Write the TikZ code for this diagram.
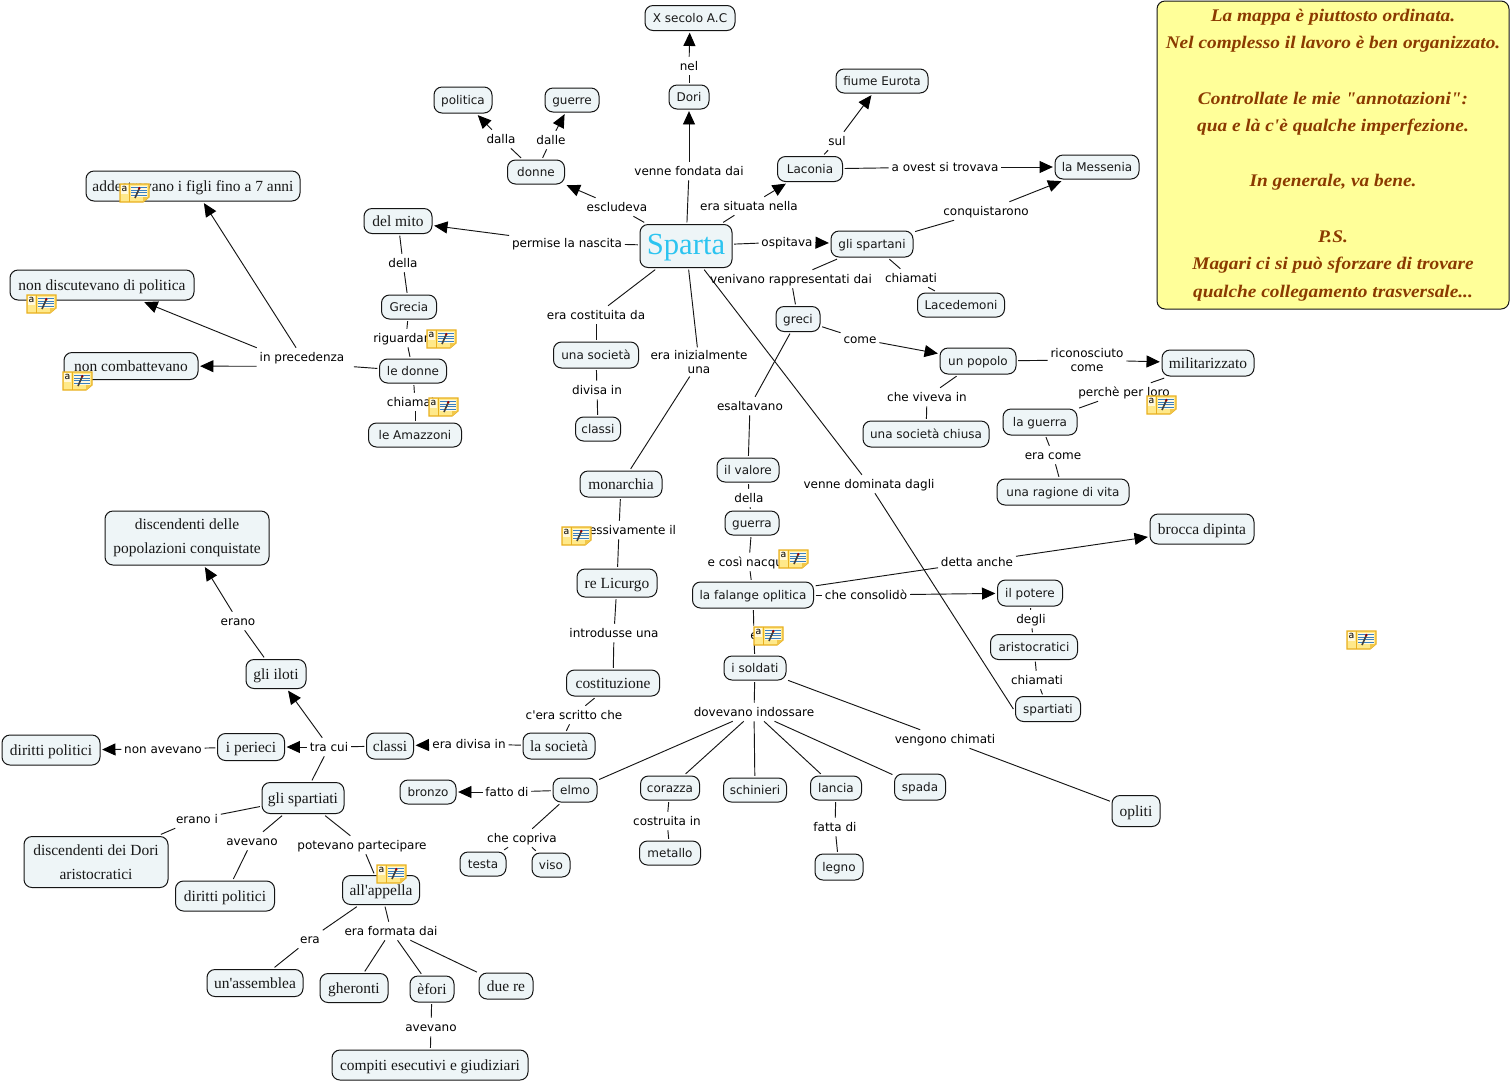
\documentclass[tikz,border=0pt]{standalone}
\usepackage{fontspec}
\newfontfamily\rserif{Liberation Serif}
\newfontfamily\nserif[FakeStretch=1.09]{Liberation Serif}
\newfontfamily\vsans{DejaVu Sans}
\usetikzlibrary{arrows.meta}
\definecolor{boxfill}{HTML}{EEF5F7}
\definecolor{noteyellow}{HTML}{FFFF99}
\definecolor{notetext}{HTML}{8B3A00}
\definecolor{spartablue}{HTML}{2CC4F0}
\definecolor{linedark}{HTML}{151515}
\definecolor{iconfill}{HTML}{FFE98A}
\definecolor{iconedge}{HTML}{E8B020}
\definecolor{iconline}{HTML}{3A7FC0}
\tikzset{
  sz/.style 2 args={minimum width=#1*0.75pt,minimum height=#2*0.75pt},
  boxbase/.style={draw=linedark,line width=.75pt,fill=boxfill,rounded corners=6pt,inner sep=0pt,outer sep=1.6pt,align=center},
  sbox/.style={boxbase,text=black!90,text height=8.1pt,text depth=1.5pt,font=\vsans\fontsize{9}{12}\selectfont},
  rboxtwo/.style={boxbase,text=black!90,font=\rserif\fontsize{11.6}{18}\selectfont},
  rbox/.style={rboxtwo,text height=9pt,text depth=1.5pt},
  labtwo/.style={inner sep=2pt,text=black,align=center,font=\vsans\fontsize{9}{10.5}\selectfont},
  lab/.style={labtwo,text height=8pt,text depth=1.5pt},
  ln/.style={draw=linedark,line width=.7pt},
  arr/.style={ln,-{Triangle[length=10pt,width=9pt,color=black]}},
  noteicon/.pic={
    \draw[fill=iconfill,draw=iconedge,line width=.9pt] (0,0)--(29,0)--(29,13)--(23,18)--(0,18)--cycle;
    \fill[iconedge!60!iconfill] (29,13)--(23,13)--(23,18)--cycle;
    \draw[draw=iconedge,line width=.5pt] (9,0)--(9,18);
    \fill[white!70!iconfill] (1,1) rectangle (8,10);
    \node[inner sep=0pt,font=\vsans\fontsize{7}{7}\selectfont] at (4.5,5) {a};
    \fill[white!75!iconfill] (11,2) rectangle (27,12.5);
    \foreach \yy in {3.5,6,8.5,11}{\draw[iconline,line width=.5pt] (11,\yy)--(27,\yy);}
    \draw[black!75,line width=1.2pt] (15,14)--(19,5);
    \fill[red!60!black] (19.3,4.2) circle (1.4);
  }
}
\begin{document}
\begin{tikzpicture}[x=0.75pt,y=-0.75pt]
\path[use as bounding box,fill=white] (0,0) rectangle (1511,1083);

% note box
\node[boxbase,fill=noteyellow,sz={352}{308},text=notetext,font=\nserif\bfseries\itshape\fontsize{13.3}{20.7}\selectfont] (remark) at (1333,155) {La mappa è piuttosto ordinata.\\Nel complesso il lavoro è ben organizzato.\\[20.7pt]Controllate le mie "annotazioni":\\qua e là c'è qualche imperfezione.\\[20.7pt]In generale, va bene.\\[20.7pt]P.S.\\Magari ci si può sforzare di trovare\\qualche collegamento trasversale...};

% concept boxes
\node[boxbase,sz={92}{43},text=spartablue,text height=17pt,text depth=5pt,font=\rserif\fontsize{23}{28}\selectfont] (sparta) at (686,246) {Sparta};
\node[sbox,sz={90}{25}] (xsec) at (690,18) {X secolo A.C};
\node[sbox,sz={40}{24}] (dori) at (689,97) {Dori};
\node[sbox,sz={92}{24}] (eurota) at (882,81) {fiume Eurota};
\node[sbox,sz={58}{26}] (politica) at (463,100) {politica};
\node[sbox,sz={54}{24}] (guerre) at (572,100) {guerre};
\node[sbox,sz={57}{24}] (donne) at (536,172) {donne};
\node[sbox,sz={65}{25}] (laconia) at (810,169) {Laconia};
\node[sbox,sz={84}{24}] (messenia) at (1097,167) {la Messenia};
\node[sbox,sz={82}{26}] (spartani) at (872,244) {gli spartani};
\node[sbox,sz={44}{25}] (greci) at (798,319) {greci};
\node[sbox,sz={87}{24}] (lacedemoni) at (961,305) {Lacedemoni};
\node[sbox,sz={85}{26}] (societa) at (596,355) {una società};
\node[sbox,sz={45}{24}] (classis) at (598,429) {classi};
\node[sbox,sz={55}{24}] (grecia) at (409,307) {Grecia};
\node[sbox,sz={67}{24}] (ledonne) at (413,371) {le donne};
\node[sbox,sz={93}{24}] (amazzoni) at (415,435) {le Amazzoni};
\node[sbox,sz={76}{26}] (popolo) at (978,361) {un popolo};
\node[sbox,sz={126}{26}] (chiusa) at (926,434) {una società chiusa};
\node[sbox,sz={74}{26}] (laguerra) at (1040,422) {la guerra};
\node[sbox,sz={132}{26}] (ragione) at (1063,492) {una ragione di vita};
\node[sbox,sz={62}{24}] (valore) at (748,470) {il valore};
\node[sbox,sz={54}{24}] (guerra) at (752,523) {guerra};
\node[sbox,sz={121}{26}] (falange) at (753,595) {la falange oplitica};
\node[sbox,sz={65}{26}] (potere) at (1030,593) {il potere};
\node[sbox,sz={87}{25}] (aristo) at (1034,647) {aristocratici};
\node[sbox,sz={65}{25}] (spartiatis) at (1048,709) {spartiati};
\node[sbox,sz={62}{24}] (soldati) at (755,668) {i soldati};
\node[sbox,sz={44}{24}] (elmo) at (575,790) {elmo};
\node[sbox,sz={56}{24}] (bronzo) at (428,792) {bronzo};
\node[sbox,sz={46}{24}] (testa) at (483,864) {testa};
\node[sbox,sz={38}{24}] (viso) at (551,865) {viso};
\node[sbox,sz={59}{24}] (corazza) at (670,788) {corazza};
\node[sbox,sz={61}{24}] (metallo) at (670,853) {metallo};
\node[sbox,sz={63}{24}] (schinieri) at (755,790) {schinieri};
\node[sbox,sz={51}{24}] (lancia) at (836,788) {lancia};
\node[sbox,sz={48}{26}] (legno) at (839,867) {legno};
\node[sbox,sz={51}{26}] (spada) at (920,787) {spada};

\node[rbox,sz={214}{30}] (addestr) at (193,186) {addestravano i figli fino a 7 anni};
\node[rbox,sz={68}{25}] (mito) at (398,221) {del mito};
\node[rbox,sz={184}{30}] (nondisc) at (102,285) {non discutevano di politica};
\node[rbox,sz={134}{27}] (noncomb) at (131,366) {non combattevano};
\node[rbox,sz={92}{26}] (milit) at (1208,363) {militarizzato};
\node[rbox,sz={82}{26}] (monarchia) at (621,484) {monarchia};
\node[rbox,sz={80}{28}] (licurgo) at (617,583) {re Licurgo};
\node[rbox,sz={93}{26}] (costit) at (613,683) {costituzione};
\node[rbox,sz={104}{30}] (brocca) at (1202,529) {brocca dipinta};
\node[rboxtwo,sz={164}{54}] (discpop) at (187,538) {discendenti delle\\popolazioni conquistate};
\node[rbox,sz={60}{29}] (iloti) at (276,674) {gli iloti};
\node[rbox,sz={67}{27}] (perieci) at (251,747) {i perieci};
\node[rbox,sz={47}{26}] (classir) at (390,746) {classi};
\node[rbox,sz={72}{26}] (lasoc) at (559,746) {la società};
\node[rbox,sz={98}{30}] (dirpol) at (51,750) {diritti politici};
\node[rbox,sz={82}{31}] (glispart) at (303,798) {gli spartiati};
\node[rboxtwo,sz={144}{51}] (discdori) at (96,862) {discendenti dei Dori\\aristocratici};
\node[rbox,sz={99}{30}] (dirpolb) at (225,896) {diritti politici};
\node[rbox,sz={77}{29}] (appella) at (381,890) {all'appella};
\node[rbox,sz={96}{27}] (assemblea) at (255,983) {un'assemblea};
\node[rbox,sz={68}{29}] (gheronti) at (354,988) {gheronti};
\node[rbox,sz={44}{26}] (efori) at (432,989) {èfori};
\node[rbox,sz={54}{26}] (duere) at (506,986) {due re};
\node[rbox,sz={196}{30}] (compiti) at (430,1065) {compiti esecutivi e giudiziari};
\node[rbox,sz={48}{31}] (opliti) at (1136,811) {opliti};

% linking phrases
\node[lab] (lfond) at (689,171) {venne fondata dai};
\node[lab] (lnel) at (689,66) {nel};
\node[lab] (lsit) at (749,206) {era situata nella};
\node[lab] (lsul) at (837,141) {sul};
\node[lab] (lovest) at (945,167) {a ovest si trovava};
\node[lab] (lescl) at (617,207) {escludeva};
\node[lab] (ldalla) at (501,139) {dalla};
\node[lab] (ldalle) at (551,140) {dalle};
\node[lab] (lperm) at (567,243) {permise la nascita};
\node[lab] (losp) at (787,242) {ospitava};
\node[lab] (lconq) at (986,211) {conquistarono};
\node[lab] (lrappr) at (791,279) {venivano rappresentati dai};
\node[lab] (lchiam) at (911,278) {chiamati};
\node[lab] (lcome) at (860,339) {come};
\node[labtwo] (lricon) at (1087,360) {riconosciuto\\come};
\node[lab] (lviveva) at (927,397) {che viveva in};
\node[lab] (lperche) at (1124,392) {perchè per loro};
\node[lab] (lcomeb) at (1053,455) {era come};
\node[lab] (lcost) at (596,315) {era costituita da};
\node[lab] (ldiv) at (597,390) {divisa in};
\node[labtwo] (linizial) at (699,362) {era inizialmente\\una};
\node[lab] (lsucc) at (619,530) {successivamente il};
\node[lab] (lprec) at (302,357) {in precedenza};
\node[lab] (ldella) at (403,263) {della};
\node[lab] (lrig) at (406,338) {riguardano};
\node[lab] (lchiamate) at (415,402) {chiamate};
\node[lab] (lesalt) at (750,406) {esaltavano};
\node[lab] (ldellab) at (749,498) {della};
\node[lab] (lnacq) at (749,562) {e così nacque};
\node[lab] (ldetta) at (977,562) {detta anche};
\node[lab] (lcons) at (866,595) {che consolidò};
\node[lab] (ldegli) at (1031,619) {degli};
\node[lab] (lchiamb) at (1037,680) {chiamati};
\node[lab] (le) at (754,635) {e};
\node[lab] (lindoss) at (754,712) {dovevano indossare};
\node[lab] (lvengono) at (945,739) {vengono chimati};
\node[lab] (ldomin) at (869,484) {venne dominata dagli};
\node[lab] (lintrod) at (614,633) {introdusse una};
\node[lab] (lscritto) at (574,715) {c'era scritto che};
\node[lab] (ldivisa) at (469,744) {era divisa in};
\node[lab] (ltra) at (329,747) {tra cui};
\node[lab] (lnonav) at (163,749) {non avevano};
\node[lab] (lerano) at (238,621) {erano};
\node[lab] (leranoi) at (197,819) {erano i};
\node[lab] (lavevano) at (252,841) {avevano};
\node[lab] (lpotev) at (362,845) {potevano partecipare};
\node[lab] (lera) at (310,939) {era};
\node[lab] (lformata) at (391,931) {era formata dai};
\node[lab] (lavevb) at (431,1027) {avevano};
\node[lab] (lfatto) at (507,792) {fatto di};
\node[lab] (lcopr) at (522,838) {che copriva};
\node[lab] (lcostr) at (667,821) {costruita in};
\node[lab] (lfatta) at (835,827) {fatta di};

% connectors
\foreach \a/\b in {sparta/lfond,dori/lnel,sparta/lsit,laconia/lsul,laconia/lovest,sparta/lescl,donne/ldalla,donne/ldalle,sparta/lperm,sparta/losp,spartani/lconq,spartani/lchiam,spartani/lrappr,lrappr/greci,lchiam/lacedemoni,greci/lcome,popolo/lricon,popolo/lviveva,lviveva/chiusa,milit/lperche,lperche/laguerra,laguerra/lcomeb,lcomeb/ragione,sparta/lcost,lcost/societa,societa/ldiv,ldiv/classis,sparta/linizial,linizial/monarchia,monarchia/lsucc,lsucc/licurgo,licurgo/lintrod,lintrod/costit,costit/lscritto,lscritto/lasoc,lasoc/ldivisa,classir/ltra,ltra/glispart,perieci/lnonav,iloti/lerano,mito/ldella,ldella/grecia,grecia/lrig,lrig/ledonne,ledonne/lchiamate,lchiamate/amazzoni,greci/lesalt,lesalt/valore,valore/ldellab,ldellab/guerra,guerra/lnacq,lnacq/falange,falange/ldetta,falange/lcons,potere/ldegli,ldegli/aristo,aristo/lchiamb,lchiamb/spartiatis,sparta/ldomin,falange/le,le/soldati,soldati/lindoss,lindoss/elmo,lindoss/corazza,lindoss/schinieri,lindoss/lancia,lindoss/spada,soldati/lvengono,lvengono/opliti,elmo/lfatto,elmo/lcopr,lcopr/testa,lcopr/viso,corazza/lcostr,lcostr/metallo,lancia/lfatta,lfatta/legno,glispart/leranoi,leranoi/discdori,glispart/lavevano,lavevano/dirpolb,glispart/lpotev,lpotev/appella,appella/lera,lera/assemblea,appella/lformata,lformata/gheronti,lformata/efori,lformata/duere,efori/lavevb,lavevb/compiti}{\draw[ln] (\a) -- (\b);}
\draw[ln] (ldomin) -- (spartiatis.west);
\draw[ln,shorten >=5pt] (ledonne) -- (lprec.south east);
\foreach \a/\b in {lfond/dori,lnel/xsec,lsit/laconia,lsul/eurota,lovest/messenia,lescl/donne,ldalla/politica,ldalle/guerre,lperm/mito,losp/spartani,lconq/messenia,lcome/popolo,lricon/milit,lprec/addestr,ldetta/brocca,lcons/potere,lfatto/bronzo,ldivisa/classir,ltra/perieci,ltra/iloti,lnonav/dirpol,lerano/discpop}{\draw[arr] (\a) -- (\b);}
\draw[arr] (lprec.north west) -- (nondisc);
\draw[arr] (lprec.south west) -- (noncomb);

% annotation icons
\foreach \nx/\ny in {120/184,27/295,63/372,427/330,429/398,1147/396,562/527,779/550,754/627,377/865,1347/631}{\pic at (\nx,\ny) {noteicon};}
\end{tikzpicture}
\end{document}
